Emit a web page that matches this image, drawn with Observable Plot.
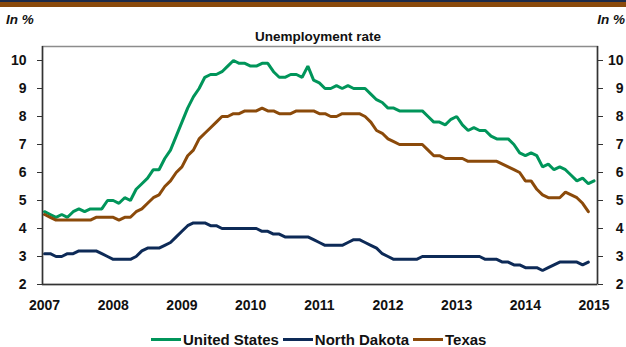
<!DOCTYPE html>
<html>
<head>
<meta charset="utf-8">
<script src="https://cdn.jsdelivr.net/npm/d3@7"></script>
<script src="https://cdn.jsdelivr.net/npm/@observablehq/plot@0.6"></script>
<style>
  html, body { margin: 0; padding: 0; background: #fff; }
  body { width: 626px; height: 347px; overflow: hidden; font-family: "Liberation Sans", Arial, sans-serif; }
  #wrap { position: relative; width: 626px; height: 347px; }
  .band1 { position: absolute; left: 0; top: 0; width: 626px; height: 2px; background: #1c2b4a; }
  .band2 { position: absolute; left: 0; top: 2px; width: 626px; height: 5px; background: #8a4a0c; }
  .unit { position: absolute; top: 12px; font: italic bold 13.5px "Liberation Sans", Arial, sans-serif; color: #111; }
  .title { position: absolute; top: 29px; left: 0; width: 636px; text-align: center; font: bold 13.5px "Liberation Sans", Arial, sans-serif; color: #111; }
  #chart { position: absolute; left: 0; top: 40px; }
  #legend { position: absolute; left: 151px; top: 331px; display: flex; align-items: center; font: bold 15px "Liberation Sans", Arial, sans-serif; color: #111; white-space: nowrap; }
  #legend .sw { display: inline-block; width: 30px; height: 3px; margin-right: 2px; }
  #legend .it { display: flex; align-items: center; margin-right: 4px; }
</style>
</head>
<body>
<div id="wrap">
  <div class="band1"></div>
  <div class="band2"></div>
  <div class="unit" style="left:6px;">In %</div>
  <div class="unit" style="right:1px;">In %</div>
  <div class="title">Unemployment rate</div>
  <div id="chart"></div>
  <div id="legend"></div>
</div>
<script>
// Monthly unemployment rate, in %, starting January 2007
const startYear = 2007;
const unitedStates = [
  4.6,4.5,4.4,4.5,4.4,4.6,4.7,4.6,4.7,4.7,4.7,5.0,
  5.0,4.9,5.1,5.0,5.4,5.6,5.8,6.1,6.1,6.5,6.8,7.3,
  7.8,8.3,8.7,9.0,9.4,9.5,9.5,9.6,9.8,10.0,9.9,9.9,
  9.8,9.8,9.9,9.9,9.6,9.4,9.4,9.5,9.5,9.4,9.8,9.3,
  9.2,9.0,9.0,9.1,9.0,9.1,9.0,9.0,9.0,8.8,8.6,8.5,
  8.3,8.3,8.2,8.2,8.2,8.2,8.2,8.0,7.8,7.8,7.7,7.9,
  8.0,7.7,7.5,7.6,7.5,7.5,7.3,7.2,7.2,7.2,7.0,6.7,
  6.6,6.7,6.6,6.2,6.3,6.1,6.2,6.1,5.9,5.7,5.8,5.6,
  5.7
];
const northDakota = [
  3.1,3.1,3.0,3.0,3.1,3.1,3.2,3.2,3.2,3.2,3.1,3.0,
  2.9,2.9,2.9,2.9,3.0,3.2,3.3,3.3,3.3,3.4,3.5,3.7,
  3.9,4.1,4.2,4.2,4.2,4.1,4.1,4.0,4.0,4.0,4.0,4.0,
  4.0,4.0,3.9,3.9,3.8,3.8,3.7,3.7,3.7,3.7,3.7,3.6,
  3.5,3.4,3.4,3.4,3.4,3.5,3.6,3.6,3.5,3.4,3.3,3.1,
  3.0,2.9,2.9,2.9,2.9,2.9,3.0,3.0,3.0,3.0,3.0,3.0,
  3.0,3.0,3.0,3.0,3.0,2.9,2.9,2.9,2.8,2.8,2.7,2.7,
  2.6,2.6,2.6,2.5,2.6,2.7,2.8,2.8,2.8,2.8,2.7,2.8
];
const texas = [
  4.5,4.4,4.3,4.3,4.3,4.3,4.3,4.3,4.3,4.4,4.4,4.4,
  4.4,4.3,4.4,4.4,4.6,4.7,4.9,5.1,5.2,5.5,5.7,6.0,
  6.2,6.6,6.8,7.2,7.4,7.6,7.8,8.0,8.0,8.1,8.1,8.2,
  8.2,8.2,8.3,8.2,8.2,8.1,8.1,8.1,8.2,8.2,8.2,8.2,
  8.1,8.1,8.0,8.0,8.1,8.1,8.1,8.1,8.0,7.8,7.5,7.4,
  7.2,7.1,7.0,7.0,7.0,7.0,7.0,6.8,6.6,6.6,6.5,6.5,
  6.5,6.5,6.4,6.4,6.4,6.4,6.4,6.4,6.3,6.2,6.1,6.0,
  5.7,5.7,5.4,5.2,5.1,5.1,5.1,5.3,5.2,5.1,4.9,4.6
];
const seriesNames = ["United States", "North Dakota", "Texas"];
const seriesColors = ["#00955a", "#0d2a57", "#8b4a0a"];
const yearTicks = [2007, 2008, 2009, 2010, 2011, 2012, 2013, 2014, 2015];
const yTicks = [2, 3, 4, 5, 6, 7, 8, 9, 10];

const toRows = (arr) => arr.map((v, i) => ({x: startYear + i / 12, y: v}));
const allSeries = [unitedStates, northDakota, texas];

const chart = Plot.plot({
  width: 626,
  height: 282,
  marginTop: 6,
  marginBottom: 38,
  marginLeft: 42,
  marginRight: 29,
  style: {fontFamily: "'Liberation Sans', Arial, sans-serif", fontSize: "14px", fontWeight: "bold", color: "#111", background: "transparent"},
  x: {type: "linear", domain: [2006.97, 2015.05]},
  y: {domain: [2, 10.5]},
  marks: [
    Plot.frame({stroke: "#8c8c8c", strokeWidth: 1.5}),
    ...allSeries.map((arr, k) => Plot.line(toRows(arr), {x: "x", y: "y", stroke: seriesColors[k], strokeWidth: 3, strokeLinejoin: "miter", curve: "linear"})),
    Plot.ruleX([2006.97], {stroke: "#333", strokeWidth: 1.5}),
    Plot.ruleX([2015.05], {stroke: "#333", strokeWidth: 1.5}),
    Plot.ruleY([2], {stroke: "#333", strokeWidth: 1.5}),
    Plot.axisY(yTicks, {anchor: "left", tickSize: 5, tickPadding: 11, textAnchor: "end", fontSize: 14, fontWeight: "bold", stroke: "#333", label: null}),
    Plot.axisY(yTicks, {anchor: "right", tickSize: 5, tickPadding: 21, textAnchor: "end", fontSize: 14, fontWeight: "bold", stroke: "#333", label: null}),
    Plot.axisX(yearTicks, {anchor: "bottom", tickSize: 0, tickPadding: 16, tickFormat: d => String(d), fontSize: 14, fontWeight: "bold", label: null})
  ]
});
document.getElementById("chart").appendChild(chart);

const legend = document.getElementById("legend");
seriesNames.forEach((name, k) => {
  const it = document.createElement("span");
  it.className = "it";
  const sw = document.createElement("span");
  sw.className = "sw";
  sw.style.background = seriesColors[k];
  it.appendChild(sw);
  it.appendChild(document.createTextNode(name));
  legend.appendChild(it);
});
</script>
</body>
</html>
